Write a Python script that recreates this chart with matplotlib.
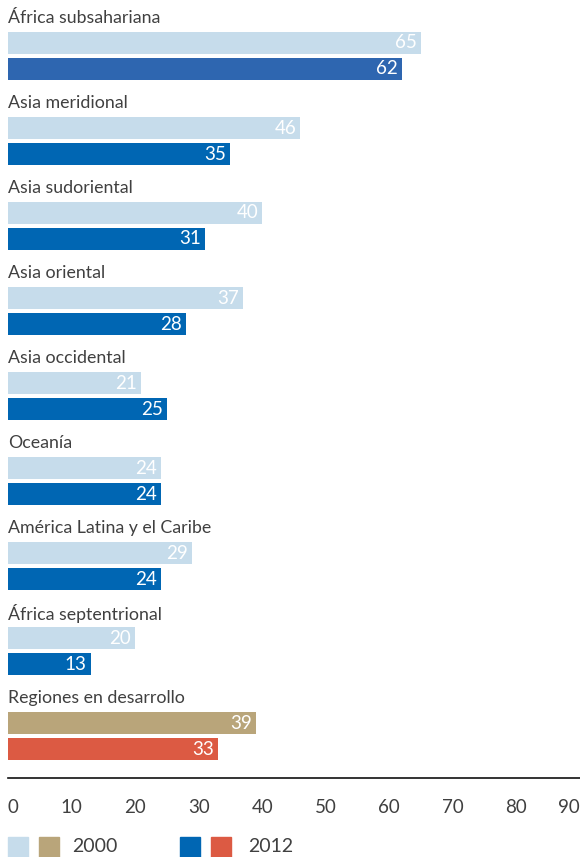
import matplotlib
matplotlib.use("Agg")
import matplotlib.pyplot as plt
from matplotlib.patches import Rectangle

regions = ["África subsahariana", "Asia meridional", "Asia sudoriental",
           "Asia oriental", "Asia occidental", "Oceanía",
           "América Latina y el Caribe", "África septentrional",
           "Regiones en desarrollo"]
values_2000 = [65, 46, 40, 37, 21, 24, 29, 20, 39]
values_2012 = [62, 35, 31, 28, 25, 24, 24, 13, 33]
xticks = [0, 10, 20, 30, 40, 50, 60, 70, 80, 90]
legend_labels = ["2000", "2012"]

LIGHT = "#c6dceb"
DARK = "#0066b3"
DARK0 = "#2e66b0"
TAN = "#b9a57a"
RED = "#dc5a43"
TXT = "#404040"

c2000 = [LIGHT] * 8 + [TAN]
c2012 = [DARK0] + [DARK] * 7 + [RED]

plt.rcParams['font.family'] = ['Lato', 'DejaVu Sans']

W, H = 580, 857
fig = plt.figure(figsize=(W / 100, H / 100), dpi=100)
ax = fig.add_axes([8 / W, (H - 778) / H, 572 / W, 778 / H])

G = 85.0  # px per group
n = len(regions)
y_light = [(43 + G * i) / G for i in range(n)]
y_dark = [(69 + G * i) / G for i in range(n)]
y_lab = [(18 + G * i) / G for i in range(n)]
bh = 22 / G

ax.barh(y_light, values_2000, height=bh, color=c2000, left=0)
ax.barh(y_dark, values_2012, height=bh, color=c2012, left=0)

for i in range(n):
    ax.text(0, y_lab[i], regions[i], ha='left', va='center', fontsize=12.8,
            color=TXT)
    ax.annotate(str(values_2000[i]), (values_2000[i], y_light[i]),
                xytext=(-3, 0), textcoords='offset points', ha='right',
                va='center', color='white', fontsize=13.5)
    ax.annotate(str(values_2012[i]), (values_2012[i], y_dark[i]),
                xytext=(-3, 0), textcoords='offset points', ha='right',
                va='center', color='white', fontsize=13.5)

ax.set_xlim(0, 90)
ax.set_ylim(778 / G, 0)
for s in ['top', 'right', 'left']:
    ax.spines[s].set_visible(False)
ax.spines['bottom'].set_color('#111111')
ax.spines['bottom'].set_linewidth(1.2)
ax.set_yticks([])
ax.set_xticks(xticks)
ax.set_xticklabels([str(t) for t in xticks])
ax.tick_params(axis='x', length=0, pad=15, labelsize=13.5, labelcolor=TXT)
labs = ax.get_xticklabels()
labs[0].set_ha('left')
labs[-1].set_ha('right')

# legend
def sq(x, color):
    fig.patches.append(Rectangle((x / W, (H - 857) / H), 20 / W, 20 / H,
                                 transform=fig.transFigure, color=color))
sq(8, LIGHT)
sq(39, TAN)
sq(180, DARK)
sq(211, RED)
fig.text(72 / W, (H - 847) / H, legend_labels[0], ha='left', va='center',
         fontsize=14, color=TXT)
fig.text(248 / W, (H - 847) / H, legend_labels[1], ha='left', va='center',
         fontsize=14, color=TXT)

fig.savefig("out.png", dpi=100)
